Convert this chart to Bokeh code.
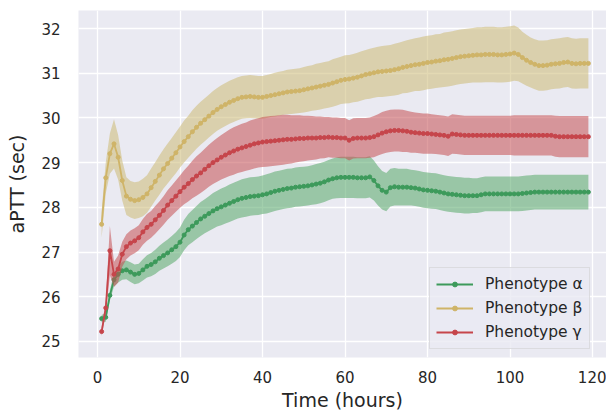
import numpy as np
from bokeh.plotting import figure
from bokeh.models import Range1d, FixedTicker
from bokeh.embed import file_html
from bokeh.resources import INLINE

hours = list(range(1, 120))

alpha_mean = [
    25.51, 25.54, 26.03, 26.38, 26.50, 26.58, 26.60, 26.55, 26.50, 26.52,
    26.60, 26.68, 26.72, 26.78, 26.86, 26.92, 26.98, 27.05, 27.12, 27.22,
    27.38, 27.50, 27.58, 27.66, 27.74, 27.80, 27.86, 27.92, 27.97, 28.01,
    28.05, 28.09, 28.13, 28.17, 28.20, 28.22, 28.24, 28.25, 28.26, 28.28,
    28.30, 28.33, 28.36, 28.38, 28.40, 28.42, 28.43, 28.45, 28.46, 28.47,
    28.48, 28.50, 28.52, 28.54, 28.57, 28.61, 28.64, 28.66, 28.67, 28.67,
    28.67, 28.67, 28.66, 28.66, 28.66, 28.68, 28.60, 28.48, 28.38, 28.34,
    28.44, 28.46, 28.45, 28.45, 28.45, 28.44, 28.43, 28.41, 28.39, 28.38,
    28.37, 28.36, 28.34, 28.32, 28.30, 28.29, 28.28, 28.27, 28.26, 28.26,
    28.26, 28.26, 28.28, 28.30, 28.30, 28.30, 28.30, 28.30, 28.30, 28.30,
    28.30, 28.30, 28.31, 28.32, 28.33, 28.34, 28.34, 28.34, 28.34, 28.34,
    28.34, 28.34, 28.34, 28.34, 28.34, 28.34, 28.34, 28.34, 28.34]
alpha_ci = [
    0.08, 0.10, 0.12, 0.15, 0.18, 0.20, 0.21, 0.22, 0.22, 0.22,
    0.24, 0.25, 0.26, 0.27, 0.28, 0.29, 0.30, 0.31, 0.32, 0.33,
    0.34, 0.35, 0.36, 0.37, 0.38, 0.38, 0.39, 0.40, 0.40, 0.41,
    0.41, 0.42, 0.42, 0.42, 0.43, 0.43, 0.43, 0.43, 0.43, 0.43,
    0.44, 0.44, 0.44, 0.44, 0.44, 0.44, 0.44, 0.44, 0.44, 0.44,
    0.44, 0.44, 0.45, 0.45, 0.45, 0.45, 0.45, 0.46, 0.46, 0.46,
    0.46, 0.46, 0.46, 0.46, 0.46, 0.46, 0.45, 0.44, 0.43, 0.43,
    0.42, 0.42, 0.41, 0.41, 0.41, 0.40, 0.40, 0.40, 0.40, 0.40,
    0.40, 0.40, 0.40, 0.40, 0.40, 0.40, 0.40, 0.40, 0.40, 0.40,
    0.39, 0.39, 0.39, 0.39, 0.39, 0.39, 0.39, 0.39, 0.39, 0.39,
    0.39, 0.39, 0.39, 0.39, 0.39, 0.39, 0.39, 0.39, 0.39, 0.39,
    0.39, 0.39, 0.39, 0.39, 0.39, 0.39, 0.39, 0.39, 0.39]

beta_mean = [
    27.62, 28.66, 29.20, 29.42, 29.12, 28.60, 28.25, 28.18, 28.15, 28.17,
    28.22, 28.30, 28.44, 28.58, 28.72, 28.86, 28.98, 29.10, 29.22, 29.35,
    29.47, 29.58, 29.69, 29.79, 29.88, 29.96, 30.04, 30.12, 30.19, 30.25,
    30.30, 30.35, 30.39, 30.43, 30.46, 30.47, 30.48, 30.47, 30.46, 30.46,
    30.48, 30.50, 30.52, 30.54, 30.56, 30.58, 30.59, 30.60, 30.61, 30.63,
    30.65, 30.67, 30.69, 30.71, 30.73, 30.75, 30.78, 30.81, 30.84, 30.86,
    30.87, 30.89, 30.91, 30.94, 30.97, 30.99, 31.01, 31.03, 31.04, 31.05,
    31.06, 31.08, 31.10, 31.13, 31.15, 31.17, 31.19, 31.20, 31.22, 31.24,
    31.25, 31.27, 31.28, 31.30, 31.31, 31.33, 31.35, 31.37, 31.38, 31.39,
    31.40, 31.41, 31.41, 31.42, 31.42, 31.42, 31.41, 31.41, 31.42, 31.43,
    31.45, 31.42, 31.35, 31.29, 31.24, 31.20, 31.17, 31.17, 31.18, 31.20,
    31.21, 31.22, 31.24, 31.25, 31.22, 31.21, 31.22, 31.22, 31.22]
beta_ci = [
    0.30, 0.35, 0.45, 0.55, 0.50, 0.45, 0.42, 0.41, 0.41, 0.41,
    0.42, 0.42, 0.43, 0.43, 0.44, 0.44, 0.45, 0.45, 0.46, 0.46,
    0.47, 0.47, 0.48, 0.48, 0.48, 0.48, 0.48, 0.48, 0.48, 0.48,
    0.48, 0.48, 0.48, 0.48, 0.48, 0.48, 0.48, 0.48, 0.48, 0.48,
    0.48, 0.48, 0.49, 0.49, 0.49, 0.50, 0.50, 0.50, 0.50, 0.51,
    0.51, 0.51, 0.52, 0.52, 0.52, 0.52, 0.53, 0.53, 0.53, 0.54,
    0.54, 0.54, 0.55, 0.55, 0.55, 0.56, 0.56, 0.56, 0.57, 0.57,
    0.57, 0.58, 0.58, 0.58, 0.59, 0.59, 0.59, 0.60, 0.60, 0.60,
    0.60, 0.60, 0.60, 0.61, 0.61, 0.61, 0.61, 0.61, 0.61, 0.61,
    0.61, 0.62, 0.62, 0.62, 0.62, 0.62, 0.62, 0.62, 0.62, 0.62,
    0.62, 0.60, 0.58, 0.57, 0.56, 0.56, 0.56, 0.56, 0.56, 0.56,
    0.56, 0.56, 0.56, 0.56, 0.56, 0.56, 0.56, 0.56, 0.56]

gamma_mean = [
    25.22, 25.75, 27.03, 26.50, 26.62, 26.95, 27.12, 27.20, 27.25, 27.32,
    27.45, 27.55, 27.62, 27.72, 27.82, 27.93, 28.05, 28.15, 28.25, 28.35,
    28.45, 28.53, 28.62, 28.70, 28.77, 28.85, 28.93, 29.00, 29.06, 29.12,
    29.17, 29.22, 29.26, 29.30, 29.33, 29.36, 29.39, 29.42, 29.44, 29.46,
    29.47, 29.48, 29.49, 29.50, 29.51, 29.52, 29.52, 29.53, 29.54, 29.54,
    29.55, 29.55, 29.55, 29.56, 29.56, 29.57, 29.56, 29.56, 29.55, 29.55,
    29.50, 29.54, 29.55, 29.55, 29.55, 29.56, 29.58, 29.62, 29.66, 29.69,
    29.71, 29.72, 29.72, 29.71, 29.70, 29.68, 29.67, 29.66, 29.65, 29.65,
    29.64, 29.63, 29.62, 29.61, 29.59, 29.64, 29.63, 29.62, 29.61, 29.61,
    29.61, 29.61, 29.61, 29.61, 29.61, 29.61, 29.61, 29.61, 29.61, 29.61,
    29.61, 29.61, 29.61, 29.61, 29.61, 29.61, 29.61, 29.61, 29.61, 29.61,
    29.59, 29.58, 29.58, 29.58, 29.58, 29.58, 29.58, 29.58, 29.58]
gamma_ci = [
    0.10, 0.15, 0.55, 0.28, 0.30, 0.28, 0.28, 0.28, 0.28, 0.28,
    0.29, 0.30, 0.30, 0.31, 0.31, 0.32, 0.33, 0.34, 0.35, 0.36,
    0.38, 0.40, 0.42, 0.44, 0.45, 0.46, 0.47, 0.48, 0.49, 0.50,
    0.51, 0.52, 0.53, 0.53, 0.54, 0.54, 0.55, 0.55, 0.55, 0.56,
    0.56, 0.56, 0.56, 0.56, 0.56, 0.55, 0.54, 0.53, 0.52, 0.51,
    0.50, 0.49, 0.48, 0.47, 0.46, 0.45, 0.45, 0.45, 0.45, 0.45,
    0.45, 0.45, 0.45, 0.45, 0.45, 0.45, 0.46, 0.46, 0.47, 0.47,
    0.47, 0.47, 0.47, 0.47, 0.46, 0.46, 0.45, 0.45, 0.45, 0.45,
    0.44, 0.44, 0.44, 0.44, 0.44, 0.44, 0.44, 0.44, 0.44, 0.44,
    0.44, 0.44, 0.44, 0.44, 0.44, 0.44, 0.44, 0.44, 0.44, 0.44,
    0.45, 0.45, 0.45, 0.45, 0.45, 0.45, 0.45, 0.45, 0.45, 0.45,
    0.46, 0.46, 0.46, 0.46, 0.46, 0.46, 0.46, 0.46, 0.46]

series_labels = ["Phenotype \u03b1", "Phenotype \u03b2", "Phenotype \u03b3"]
x_ticks = [0, 20, 40, 60, 80, 100, 120]
y_ticks = [25, 26, 27, 28, 29, 30, 31, 32]

FONT = "DejaVu Sans"
TXT = "#262626"

p = figure(width=606, height=416, output_backend="svg", toolbar_location=None,
           x_range=Range1d(-4.606, 123.39), y_range=Range1d(24.64, 32.403),
           min_border_left=78, min_border_right=0, min_border_top=10,
           min_border_bottom=59,
           background_fill_color="#EAEAF2", border_fill_color="white")
p.outline_line_color = None

for g in (p.xgrid, p.ygrid):
    g.grid_line_color = "white"
    g.grid_line_width = 1.3
p.xaxis.ticker = FixedTicker(ticks=x_ticks)
p.yaxis.ticker = FixedTicker(ticks=y_ticks)

for ax in (p.xaxis, p.yaxis):
    ax.axis_line_color = None
    ax.major_tick_line_color = None
    ax.minor_tick_line_color = None
    ax.major_tick_out = 0
    ax.major_tick_in = 0
    ax.minor_tick_out = 0
    ax.major_label_text_font = FONT
    ax.major_label_text_font_size = "15px"
    ax.major_label_text_color = TXT
    ax.axis_label_text_font = FONT
    ax.axis_label_text_font_size = "19px"
    ax.axis_label_text_font_style = "normal"
    ax.axis_label_text_color = TXT

p.xaxis.axis_label = "Time (hours)"
p.yaxis.axis_label = "aPTT (sec)"
p.xaxis.major_label_standoff = 13
p.xaxis.axis_label_standoff = 3
p.yaxis.major_label_standoff = 18
p.yaxis.axis_label_standoff = 10

series = [
    (alpha_mean, alpha_ci, "#55A868", "#3D9A5B", series_labels[0]),
    (beta_mean, beta_ci, "#CCB974", "#CFB468", series_labels[1]),
    (gamma_mean, gamma_ci, "#C44E52", "#C6454B", series_labels[2]),
]

for mean, ci, band_col, line_col, lab in series:
    m = np.array(mean)
    c = np.array(ci)
    p.varea(x=hours, y1=m - c, y2=m + c, fill_color=band_col, fill_alpha=0.55)
    p.line(hours, mean, line_color=line_col, line_width=1.8, legend_label=lab)
    p.scatter(hours, mean, size=4, fill_color=line_col, line_color=line_col,
              legend_label=lab)

lg = p.legend[0]
lg.location = (351, 8)
lg.margin = 0
lg.padding = 6
lg.spacing = 4
lg.label_height = 20
lg.glyph_height = 12
lg.glyph_width = 37
lg.label_standoff = 12
lg.label_text_font = FONT
lg.label_text_font_size = "15.5px"
lg.label_text_color = TXT
lg.border_line_color = "#CCCCCC"
lg.border_line_width = 1
lg.background_fill_color = "#EAEAF2"
lg.background_fill_alpha = 0.8

open("out.html", "w").write(file_html(p, INLINE))
